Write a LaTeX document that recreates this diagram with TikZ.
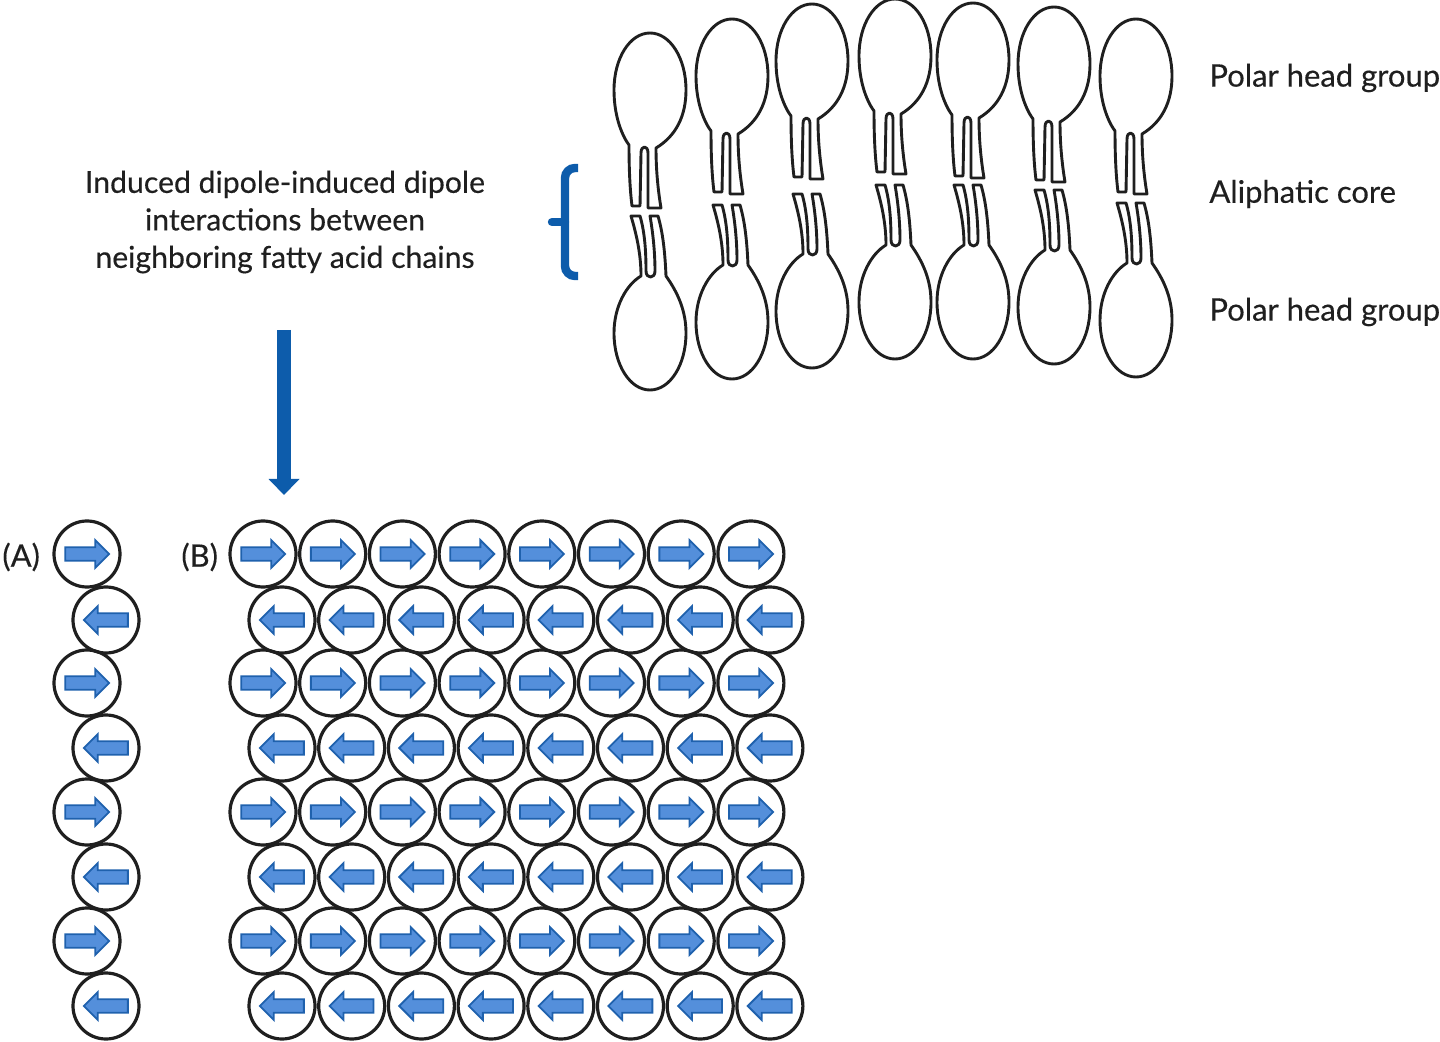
\documentclass[tikz,border=0pt]{standalone}
\usepackage{fontspec}
\setmainfont{Lato}
\newfontfamily\labelfont{Lato}[FakeBold=0.35]
\usepackage{xcolor}
\usetikzlibrary{arrows.meta,shapes.arrows}
\definecolor{myblue}{rgb}{0.05,0.36,0.67}
\definecolor{myfill}{rgb}{0.33,0.56,0.86}
\definecolor{myedge}{rgb}{0.12,0.38,0.68}
\definecolor{myink}{gray}{0.12}
\tikzset{
  labeltext/.style={myink,font=\labelfont\fontsize{15.5}{18.75}\selectfont},
  lipidline/.style={myink,line width=1.45pt,line join=round},
  molecule/.style={circle,draw=myink,line width=1.6pt,minimum size=33pt,inner sep=0pt},
  dipole/.style={single arrow,draw=myedge,fill=myfill,line width=0.9pt,minimum height=22pt,
    inner xsep=0pt,inner ysep=2.9pt,single arrow head extend=3.6pt,single arrow head indent=0pt},
  tophead/.pic={
    \draw[lipidline] (-21,55) .. controls (-27,47) and (-36,28) .. (-36,0)
      .. controls (-36,-32) and (-20,-57) .. (0,-57)
      .. controls (20,-57) and (36,-32) .. (36,0)
      .. controls (36,26) and (26,46) .. (6,58)
      .. controls (6,80) and (8,100) .. (11,118) -- (-2,118)
      -- (-2,63) .. controls (-2,55) and (-9,55) .. (-9,63)
      -- (-10,116) -- (-18,116)
      .. controls (-20,100) and (-21,80) .. (-21,55) -- cycle;
  },
  bottomhead/.pic={
    \draw[lipidline] (-9,-57) .. controls (-24,-48) and (-36,-26) .. (-36,0)
      .. controls (-36,32) and (-20,57) .. (0,57)
      .. controls (20,57) and (36,32) .. (36,0)
      .. controls (36,-22) and (28,-40) .. (16,-57)
      .. controls (15,-80) and (13,-100) .. (8,-117) -- (0,-117)
      .. controls (3,-100) and (5,-80) .. (5,-62) .. controls (5,-54) and (-4,-54) .. (-4,-62)
      .. controls (-4,-80) and (-5,-100) .. (-10,-117) -- (-19,-117)
      .. controls (-14,-100) and (-9,-80) .. (-9,-57) -- cycle;
  }
}
\begin{document}
\begin{tikzpicture}[x=0.5pt,y=-0.5pt]
\useasboundingbox (0,0) rectangle (1440,1042);
% lipid bilayer
\foreach \xx/\ytop/\ybot in {650/90/333,732/76/322,812/61/311,895/56/302,973/60/302,1054/64/307,1136/76/320}{
  \pic at (\xx,\ytop) {tophead};
  \pic at (\xx,\ybot) {bottomhead};
}
% labels
\node[labeltext,anchor=west,inner sep=0pt] (headtop) at (1209,78) {Polar head group};
\node[labeltext,anchor=west,inner sep=0pt] (core) at (1209,194) {Aliphatic core};
\node[labeltext,anchor=west,inner sep=0pt] (headbottom) at (1209,312) {Polar head group};
\node[labeltext,font=\labelfont\fontsize{15.1}{18.75}\selectfont,align=center,inner sep=0pt] (induced) at (285,222) {Induced dipole-induced dipole\\interactions between\\neighboring fatty acid chains};
% bracket and arrow
\draw[myblue,line width=4.2pt,rounded corners=5pt] (578,168) -- (565,168) -- (565,276) -- (578,276);
\draw[myblue,line width=4.2pt,line cap=round] (552,222) -- (565,222);
\coordinate (arrowtop) at (284,330);
\coordinate (arrowtip) at (284,495);
\draw[myblue,line width=7pt,-{Triangle[length=8pt,width=15pt]}] (arrowtop) -- (arrowtip);
% packing
\node[labeltext,anchor=west,inner sep=0pt] (labela) at (2,557) {(A)};
\node[labeltext,anchor=west,inner sep=0pt] (labelb) at (181,557) {(B)};
\foreach \r/\yy/\xa/\xb/\rot in {1/554/87/263/0,2/620/106/282/180,3/683/87/263/0,4/748/106/282/180,
    5/812/87/263/0,6/877/106/282/180,7/941/87/263/0,8/1006/106/282/180}{
  \node[molecule] (a\r) at (\xa,\yy) {};
  \node[dipole,shape border rotate=\rot,xshift={-1.6pt*cos(\rot)}] at (a\r) {};
  \foreach \c in {0,...,7}{
    \pgfmathsetmacro{\xx}{\xb+69.7*\c}
    \node[molecule] (b\r\c) at (\xx,\yy) {};
    \node[dipole,shape border rotate=\rot,xshift={-1.6pt*cos(\rot)}] at (b\r\c) {};
  }
}
\end{tikzpicture}
\end{document}
